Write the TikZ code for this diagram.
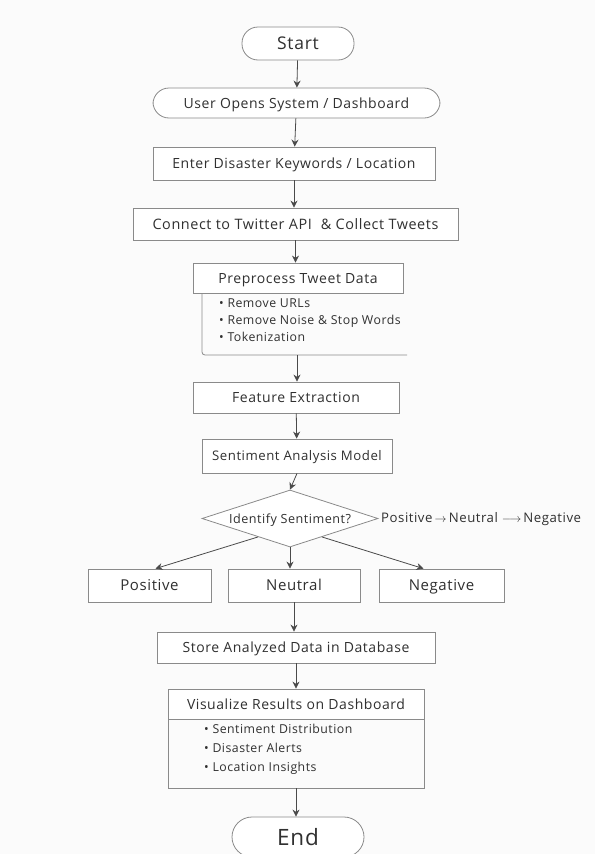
\documentclass[tikz,border=0pt]{standalone}
\usepackage{fontspec}
\setmainfont{Open Sans}[LetterSpace=4]
\usetikzlibrary{arrows.meta,shapes.geometric}
\definecolor{ln}{HTML}{8A8A8A}
\definecolor{tx}{HTML}{303030}
\definecolor{bg}{HTML}{FBFBFB}
\definecolor{ar}{HTML}{4A4A4A}
\begin{document}
\begin{tikzpicture}[x=1pt,y=-1pt,
  every node/.style={text=tx,font=\fontsize{14}{16}\selectfont,inner sep=0pt},
  tb/.style={text height=#1,text depth=0pt},
  boxn/.style={draw=ln,line width=0.8pt,minimum height=32pt,fill=white},
  pill/.style={draw=ln,line width=0.8pt,rounded corners=16pt,fill=white},
  flow/.style={draw=ar,line width=0.8pt,-{Stealth[length=7pt,width=7pt]}},
  bul/.style={font=\fontsize{12.3}{17}\selectfont,anchor=north west,align=left}]
\useasboundingbox (0,0) rectangle (595,854);
\fill[bg] (0,0) rectangle (595,854);

\node[pill,tb=12.5pt,minimum width=112pt,minimum height=33pt,font=\fontsize{17.5}{20}\selectfont] (start) at (298,43.5) {Start};
\node[pill,tb=10pt,minimum width=287pt,minimum height=30pt] (user) at (296.5,103) {User Opens System / Dashboard};
\node[boxn,tb=10pt,minimum width=282pt,minimum height=33pt] (enter) at (294,163.5) {Enter Disaster Keywords / Location};
\node[boxn,tb=10.3pt,minimum width=325pt,minimum height=32pt,font=\fontsize{14.4}{16}\selectfont] (conn) at (295.5,224) {Connect to Twitter API\hspace{9pt}\& Collect Tweets};
\node[boxn,tb=10pt,minimum width=210pt,minimum height=30pt] (pre) at (298,278) {Preprocess Tweet Data};
\coordinate (preA) at (202,293);
\coordinate (preB) at (202,355);
\coordinate (preC) at (407,355);
\coordinate (preM) at (297,355);
\draw[ln,line width=0.8pt,rounded corners=3pt] (preA) -- (preB) -- (preC);
\node[bul] (prebul) at (219,299) {\textbullet\ Remove URLs\\ \textbullet\ Remove Noise \& Stop Words\\ \textbullet\ Tokenization};

\node[boxn,tb=10pt,minimum width=206pt,minimum height=31pt] (feat) at (296,397.5) {Feature Extraction};
\node[boxn,tb=9.4pt,minimum width=190pt,minimum height=34pt,font=\fontsize{13.2}{15}\selectfont] (sam) at (297,456) {Sentiment Analysis Model};
\node[diamond,tb=9pt,draw=ln,line width=0.8pt,fill=white,minimum width=176pt,minimum height=57pt,aspect=3,font=\fontsize{12.6}{14}\selectfont] (dia) at (290,518.5) {Identify Sentiment?};
\node[tb=9.4pt,font=\fontsize{13.2}{15}\selectfont,anchor=west] (seq) at (381,517.5) {Positive\,$\rightarrow$\,Neutral~$\longrightarrow$\,Negative};

\node[boxn,tb=10.7pt,minimum width=123pt,minimum height=33pt,font=\fontsize{15}{17}\selectfont] (pos) at (149.5,585.5) {Positive};
\node[boxn,tb=10.7pt,minimum width=132pt,minimum height=33pt,font=\fontsize{15}{17}\selectfont] (neu) at (294,585.5) {Neutral};
\node[boxn,tb=10.7pt,minimum width=125pt,minimum height=33pt,font=\fontsize{15}{17}\selectfont] (neg) at (441.5,585.5) {Negative};

\node[boxn,tb=10pt,minimum width=278pt,minimum height=31pt] (store) at (296,647.5) {Store Analyzed Data in Database};
\node[boxn,tb=10pt,minimum width=256pt,minimum height=30pt] (vis) at (296,704) {Visualize Results on Dashboard};
\coordinate (visA) at (168,719);
\coordinate (visB) at (424,788);
\draw[ln,line width=0.8pt] (visA) rectangle (visB);
\coordinate (visM) at (296,788);
\node[bul,font=\fontsize{12.3}{19}\selectfont] (visbul) at (204,724) {\textbullet\ Sentiment Distribution\\ \textbullet\ Disaster Alerts\\ \textbullet\ Location Insights};

\node[pill,tb=16pt,minimum width=132pt,minimum height=40pt,rounded corners=20pt,font=\fontsize{22.5}{26}\selectfont] (endn) at (298,837) {End};

\draw[flow] (start) -- (user);
\draw[flow] (user) -- (enter);
\draw[flow] (enter.south) -- (enter.south|-conn.north);
\draw[flow] (conn.south) -- (conn.south|-pre.north);
\draw[flow] (preM) -- (preM|-feat.north);
\draw[flow] (feat) -- (sam);
\draw[flow] (sam.south) -- (dia.north);
\draw[flow] (dia.south) -- (dia.south|-neu.north);
\draw[flow] (dia.210) -- ([xshift=6pt]pos.north);
\draw[flow] (dia.-30) -- ([xshift=-18pt]neg.north);
\draw[flow] (neu.south) -- (neu.south|-store.north);
\draw[flow] (store) -- (vis);
\draw[flow] (visM) -- (visM|-endn.north);
\end{tikzpicture}
\end{document}
